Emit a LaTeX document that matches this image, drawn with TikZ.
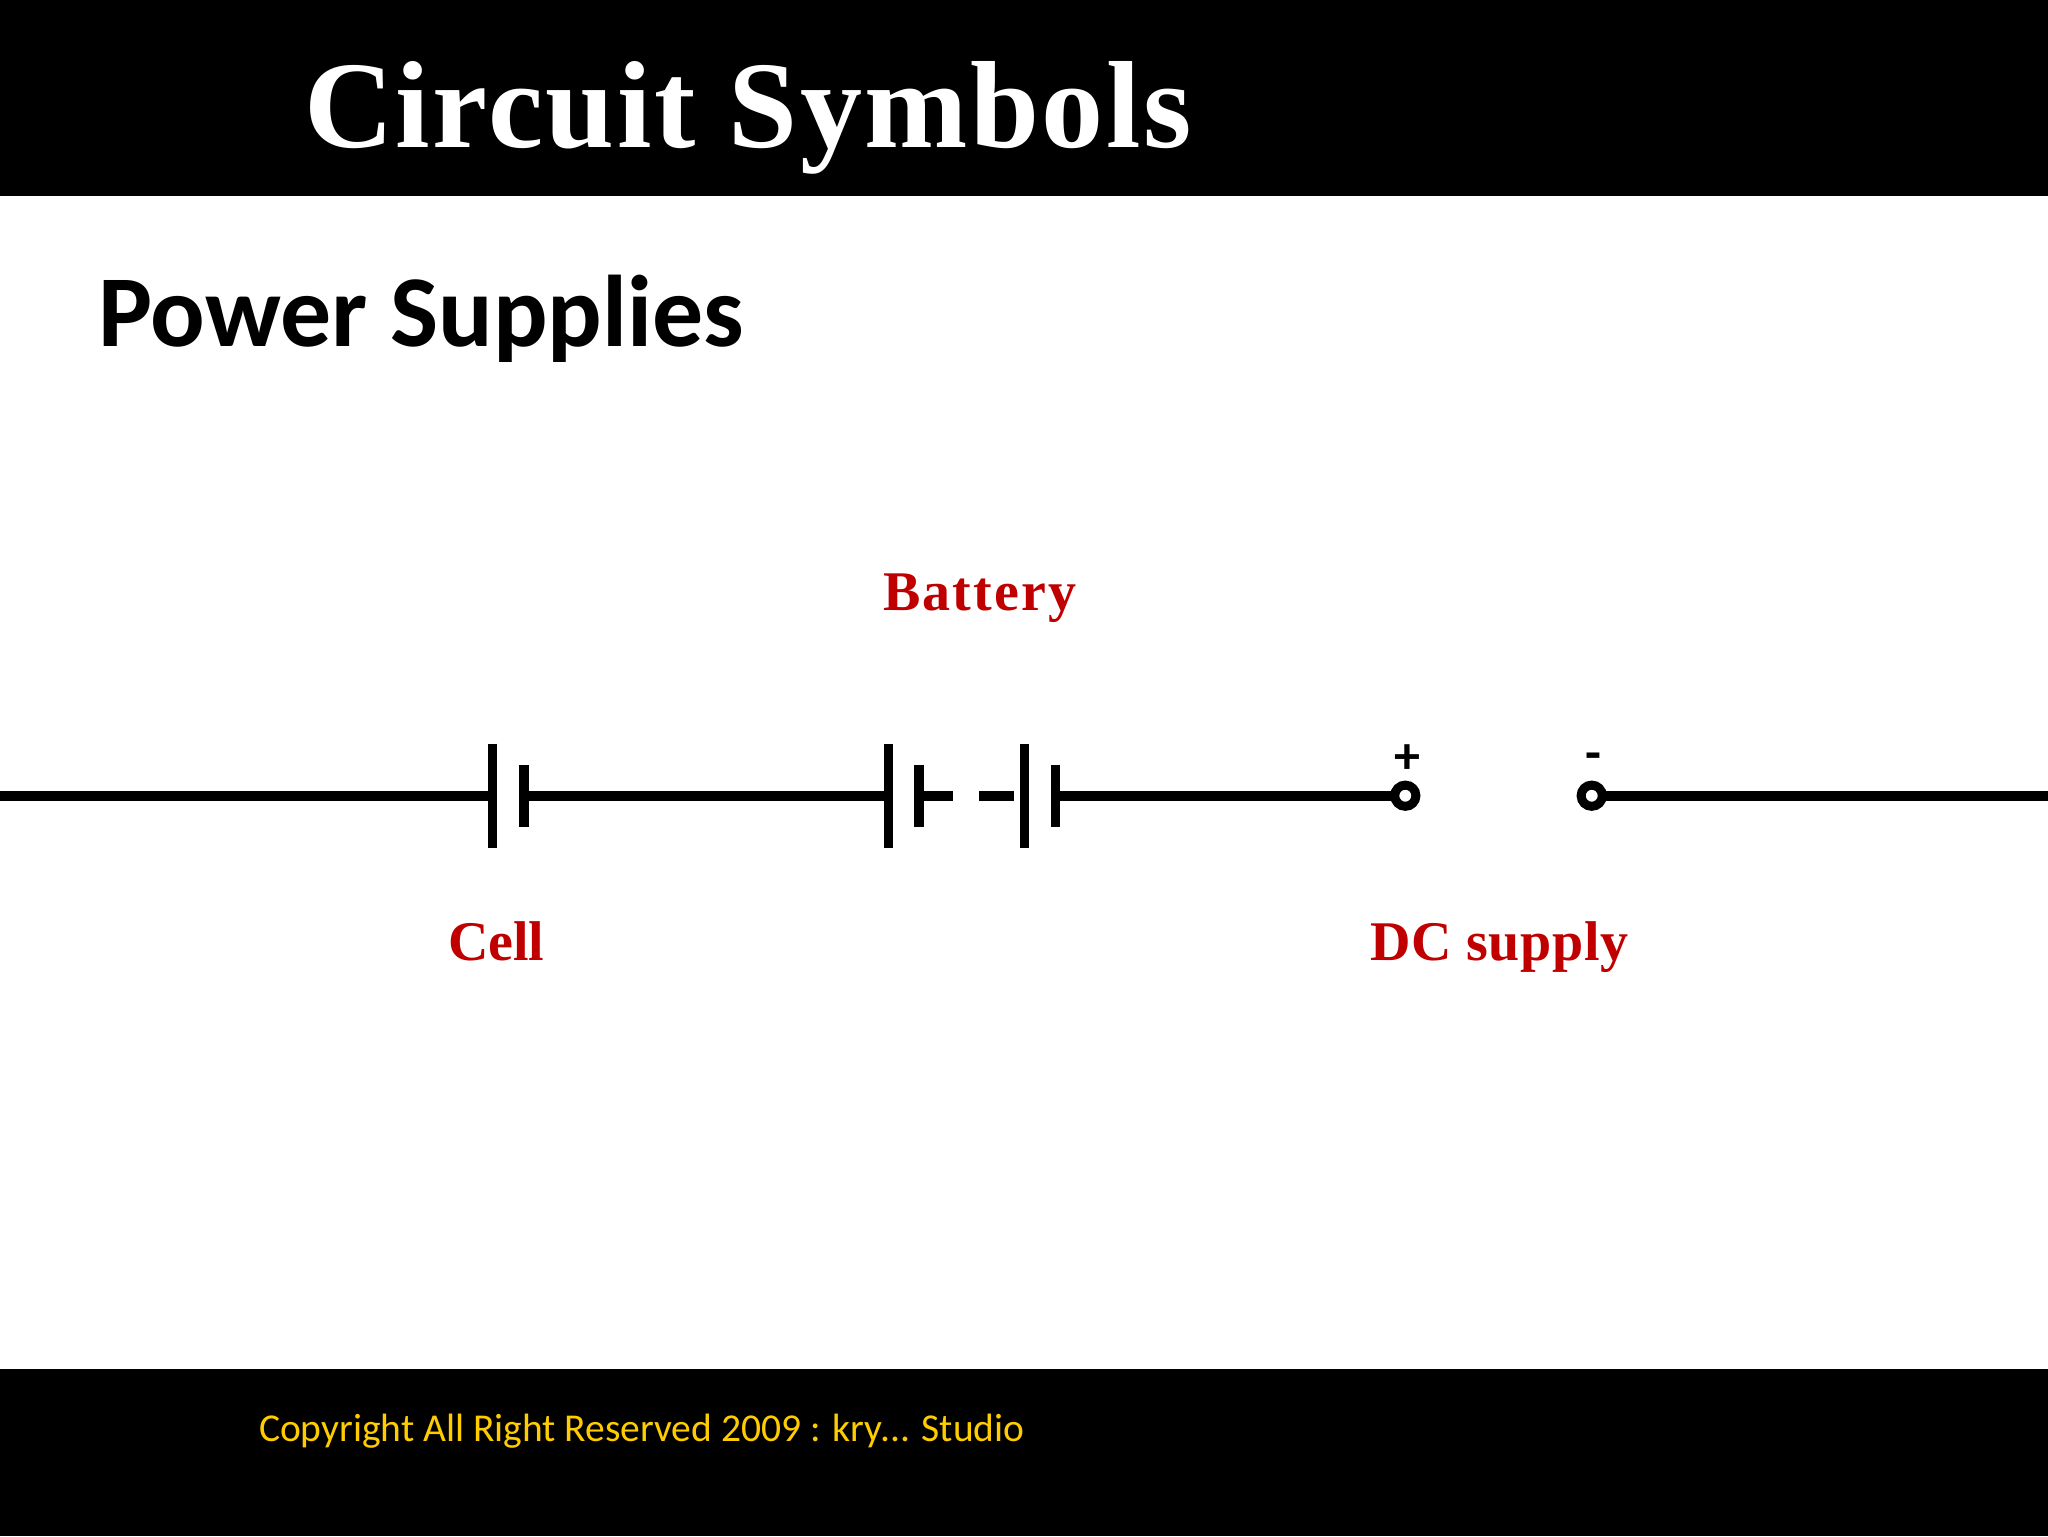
\documentclass[tikz,border=0pt]{standalone}
\usepackage{fontspec}
\setmainfont{Liberation Serif}
\newfontfamily\calib{Carlito}
\begin{document}
\begin{tikzpicture}[x=0.5pt,y=-0.5pt,
  bar/.style={fill=black,draw=none},
  wire/.style={line width=5pt,black},
  plate/.style={line width=4.6pt,black},
  term/.style={circle,draw=black,line width=4.5pt,fill=white,minimum size=10.6pt,inner sep=0pt,outer sep=0pt},
  lbl/.style={anchor=base west,inner sep=0pt,outer sep=0pt},
  redlbl/.style={lbl,text=labelred,font=\fontsize{28}{32}\selectfont\bfseries}]
\definecolor{labelred}{HTML}{C00000}
\definecolor{footyellow}{HTML}{FFCC00}
\useasboundingbox (0,0) rectangle (2048,1536);
\fill[white] (0,0) rectangle (2048,1536);
\fill[bar] (0,0) rectangle (2048,196);
\fill[bar] (0,1369) rectangle (2048,1536);
\node[lbl,text=white,font=\fontsize{62}{70}\selectfont\bfseries] (title) at (304,148) {\addfontfeature{LetterSpace=2}Circuit Symbols};
\node[lbl,text=black,font=\calib\fontsize{50.9}{56}\selectfont\bfseries] (sub) at (98,346) {Power Supplies};
\node[redlbl] (battery) at (883,610) {\addfontfeature{LetterSpace=3.9}Battery};
\node[redlbl] (cell) at (448,960) {Cell};
\node[redlbl] (dc) at (1370,960) {\addfontfeature{LetterSpace=1.3}DC supply};
\node[lbl,text=footyellow,font=\calib\fontsize{19.75}{24}\selectfont] (foot) at (259,1441) {Copyright All Right Reserved 2009 : kry... Studio};
% end points
\coordinate (wl) at (0,795.7);
\coordinate (wr) at (2048,795.7);
\coordinate (a1) at (492.8,795.7);
\coordinate (b1) at (524,795.7);
\coordinate (a2) at (888.7,795.7);
\coordinate (b2) at (919,795.7);
\coordinate (s2) at (953.4,795.7);
\coordinate (s3) at (979,795.7);
\coordinate (a3) at (1024.8,795.7);
\coordinate (a3w) at (1013.7,795.7);
\coordinate (b3) at (1055.6,795.7);
% plates
\draw[plate] (a1)++(0,-52) -- ++(0,104);
\draw[plate] (b1)++(0,-31) -- ++(0,62);
\draw[plate] (a2)++(0,-52) -- ++(0,104);
\draw[plate] (b2)++(0,-31) -- ++(0,62);
\draw[plate] (a3)++(0,-52) -- ++(0,104);
\draw[plate] (b3)++(0,-31) -- ++(0,62);
% terminals
\node[term] (tp) at (1405.3,795.7) {};
\node[term] (tm) at (1591.7,795.7) {};
\draw[wire] (wl) -- (a1);
\draw[wire] (b1) -- (a2);
\draw[wire] (b2) -- (s2);
\draw[wire] (s3) -- (a3w);
\draw[wire] (b3) -- (tp);
\draw[wire] (tm) -- (wr);
\node[lbl,anchor=center,text=black,font=\calib\fontsize{26}{30}\selectfont\bfseries] (plus) at (1407,759) {+};
\node[lbl,anchor=center,text=black,font=\calib\fontsize{26}{30}\selectfont\bfseries] (minus) at (1593,762) {-};
\end{tikzpicture}
\end{document}
